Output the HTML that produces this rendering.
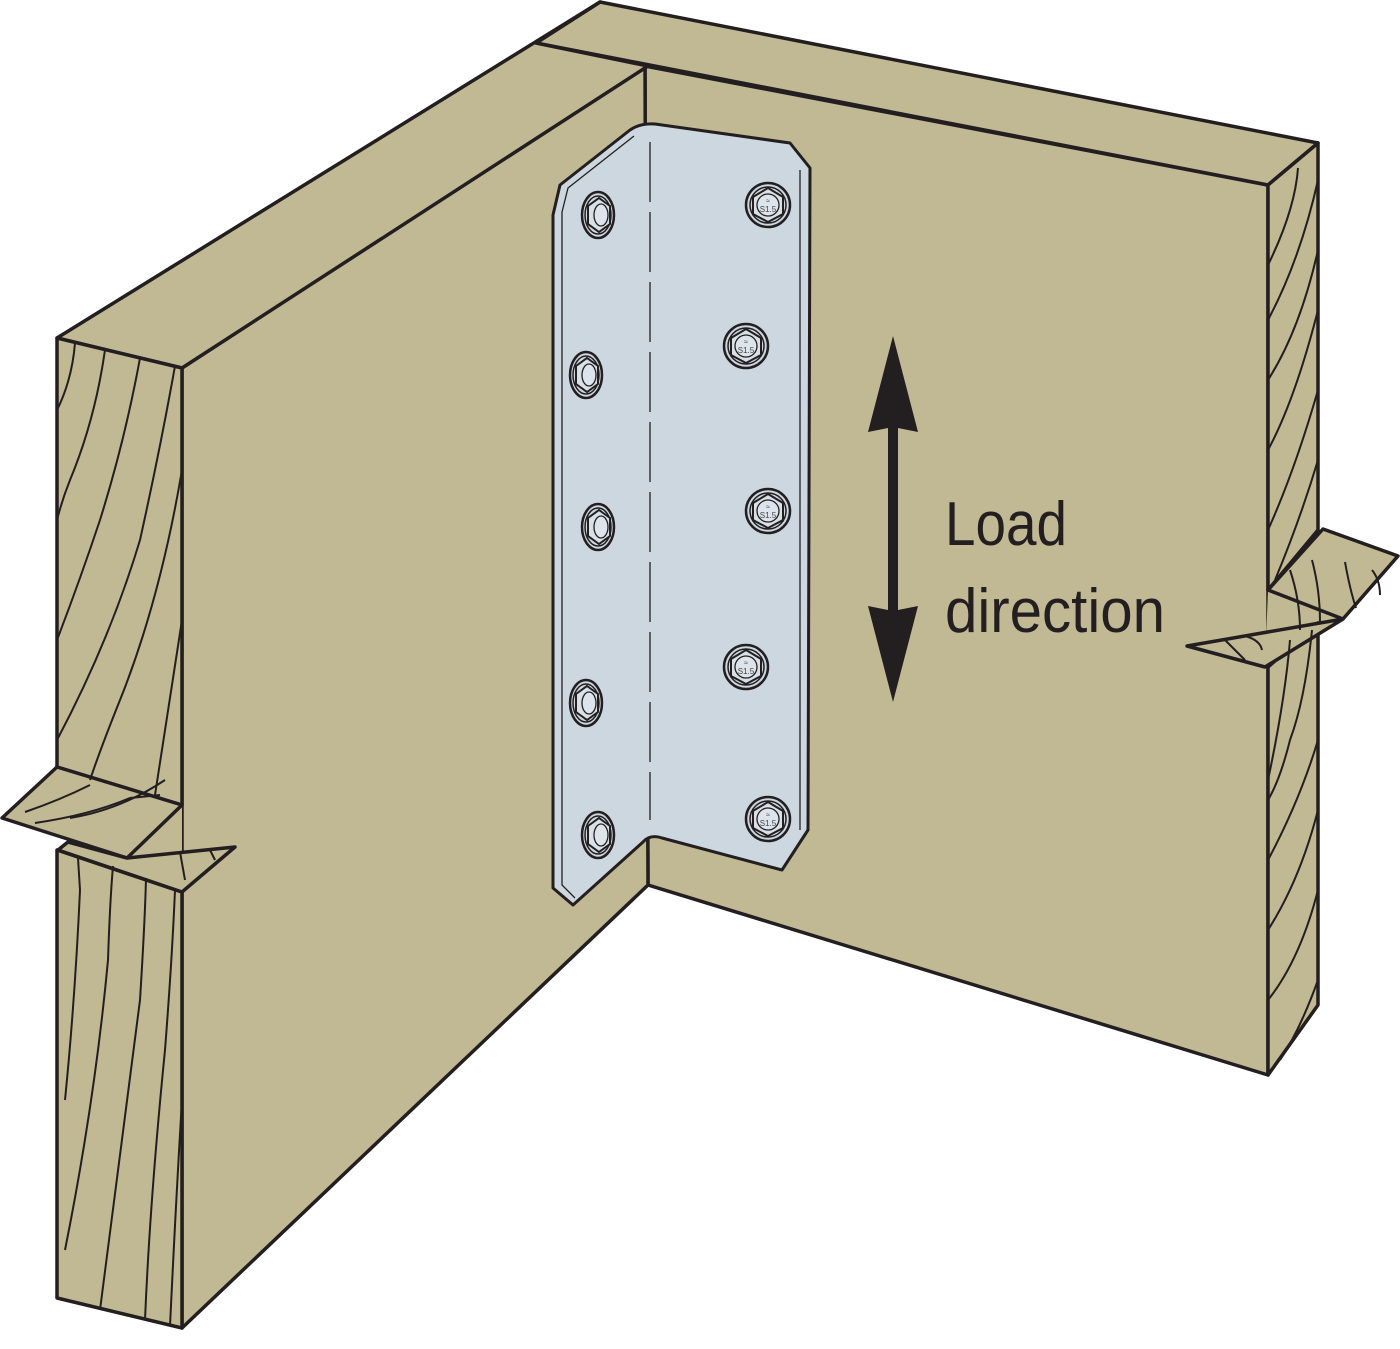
<!DOCTYPE html>
<html><head><meta charset="utf-8"><style>
html,body{margin:0;padding:0;background:#fff}
svg{display:block}
</style></head><body>
<svg width="1400" height="1349" viewBox="0 0 1400 1349" xmlns="http://www.w3.org/2000/svg">
<defs>
<g id="bolt">
  <circle r="22" fill="#cdd7e0" stroke="#231f20" stroke-width="2.5"/>
  <circle r="18" fill="none" stroke="#231f20" stroke-width="1.5"/>
  <polygon points="0,-17 15,-8 15,9 0,17 -15,9 -15,-8" fill="#d8e0e8" stroke="#231f20" stroke-width="2"/>
  <circle r="11" fill="#dde4eb" stroke="#231f20" stroke-width="1.3"/>
  <text x="0" y="7" font-family="Liberation Sans, sans-serif" font-size="8" text-anchor="middle" fill="#444">S1.5</text>
  <text x="0" y="-2" font-family="Liberation Sans, sans-serif" font-size="7" text-anchor="middle" fill="#444">≈</text>
</g>
<g id="boltL">
  <ellipse rx="16" ry="23" fill="#cdd7e0" stroke="#231f20" stroke-width="2.5"/>
  <ellipse rx="13" ry="19" fill="none" stroke="#231f20" stroke-width="1.5"/>
  <polygon points="1,-17 12,-9 12,9 1,17 -10,9 -10,-9" fill="#d8e0e8" stroke="#231f20" stroke-width="2"/>
  <ellipse cx="3" rx="7" ry="11" fill="#dde4eb" stroke="#231f20" stroke-width="1.3"/>
</g>
</defs>
<g stroke="#231f20" stroke-width="3.5" stroke-linejoin="round" fill="#c1b894">
  <polygon points="645,66 1268,185 1268,1075 648,885"/>
  <polygon points="600,2 1318,143 1268,185 536,43"/>
  <polygon points="1268,590 1343,619 1265,667" stroke="none"/>
  <polygon points="1268,185 1318,143 1318,530 1268,590"/>
  <polygon points="1268,667 1318,623 1318,1005 1268,1075"/>
  <polygon points="1268,590 1323,529 1398,556 1343,619"/>
  <polygon points="1187,646 1343,619 1265,667"/>
  <polygon points="182,368 645,66 648,885 182,1328"/>
  <polygon points="57,338 600,2 536,43 648,66 182,368"/>
  <polygon points="127,858 182,800 182,892 68,842" stroke="none"/>
  <polygon points="57,338 182,368 182,805 57,767"/>
  <polygon points="57,850 182,892 182,1328 57,1298"/>
  <polygon points="57,767 182,805 127,858 2,818"/>
  <polygon points="68,842 127,858 235,847 182,892 58,850"/>
</g>
<g stroke="#231f20" stroke-width="2" fill="none">
  <line x1="536" y1="43" x2="648" y2="65"/>
  <line x1="645" y1="66" x2="645" y2="130"/>
  <path d="M75,343 Q72,380 57,410"/>
  <path d="M105,350 Q95,420 70,480 Q62,500 57,520"/>
  <path d="M140,358 Q125,440 100,520 Q80,580 57,640"/>
  <path d="M175,366 Q160,450 140,540 Q110,640 57,740"/>
  <path d="M182,470 Q160,600 120,700 Q100,750 90,780"/>
  <path d="M182,620 Q170,700 155,795"/>
  <path d="M25,812 Q60,800 90,785"/>
  <path d="M35,823 Q90,815 130,798 L160,795"/>
  <path d="M70,818 Q120,810 165,780"/>
  <path d="M78,858 L80,890 Q75,1000 65,1100"/>
  <path d="M113,866 Q110,900 108,960 Q95,1100 65,1250"/>
  <path d="M146,878 Q145,920 140,1000 Q120,1150 100,1310"/>
  <path d="M175,890 Q172,960 165,1050 Q150,1200 145,1320"/>
  <path d="M182,1100 Q176,1200 170,1326"/>
  <path d="M210,850 L215,860"/>
  <path d="M180,852 L185,880"/>
  <path d="M1298,168 Q1295,210 1268,265"/>
  <path d="M1318,180 Q1300,260 1268,320"/>
  <path d="M1318,250 Q1300,330 1268,380"/>
  <path d="M1318,310 Q1295,400 1268,450"/>
  <path d="M1318,390 Q1295,470 1268,530"/>
  <path d="M1318,460 Q1300,520 1275,580"/>
  <path d="M1290,570 Q1300,600 1300,630"/>
  <path d="M1312,560 Q1320,590 1320,622"/>
  <path d="M1345,562 Q1350,590 1356,608"/>
  <path d="M1372,570 Q1380,580 1380,595"/>
  <path d="M1225,640 Q1235,650 1245,660"/>
  <path d="M1245,636 Q1260,640 1262,650"/>
  <path d="M1290,640 Q1285,700 1268,780"/>
  <path d="M1312,630 Q1305,700 1290,740 Q1280,780 1268,800"/>
  <path d="M1318,740 Q1300,800 1268,860"/>
  <path d="M1318,810 Q1300,880 1268,930"/>
  <path d="M1318,890 Q1300,960 1268,1000"/>
  <path d="M1318,980 Q1300,1030 1280,1060"/>
</g>
<path d="M553,215 L560,185 L630,130 Q640,123 655,124 L790,143 L810,168 L808,830 L782,870 L662,838 Q650,834 643,842 L573,905 L553,888 Z" fill="#cdd7e0" stroke="#231f20" stroke-width="3" stroke-linejoin="round"/>
<path d="M562,212 L568,188 L634,136 M562,212 L562,885 L575,898" fill="none" stroke="#231f20" stroke-width="1.3"/>
<path d="M800,170 L800,830" fill="none" stroke="#231f20" stroke-width="1.3"/>
<line x1="650" y1="142" x2="650" y2="820" stroke="#231f20" stroke-width="1.3" stroke-dasharray="60,10"/>
<use href="#boltL" x="598" y="215"/>
<use href="#boltL" x="586" y="375"/>
<use href="#boltL" x="598" y="527"/>
<use href="#boltL" x="586" y="703"/>
<use href="#boltL" x="598" y="835"/>
<use href="#bolt" x="768" y="205"/>
<use href="#bolt" x="746" y="346"/>
<use href="#bolt" x="768" y="511"/>
<use href="#bolt" x="746" y="667"/>
<use href="#bolt" x="768" y="819"/>
<polygon points="893,336 918,432 898,428 898,610 918,606 893,702 868,606 888,610 888,428 868,432" fill="#231f20"/>
<text x="945" y="545" font-family="Liberation Sans, sans-serif" font-size="62" fill="#231f20" textLength="122" lengthAdjust="spacingAndGlyphs">Load</text>
<text x="945" y="632" font-family="Liberation Sans, sans-serif" font-size="62" fill="#231f20" textLength="220" lengthAdjust="spacingAndGlyphs">direction</text>
</svg>
</body></html>
